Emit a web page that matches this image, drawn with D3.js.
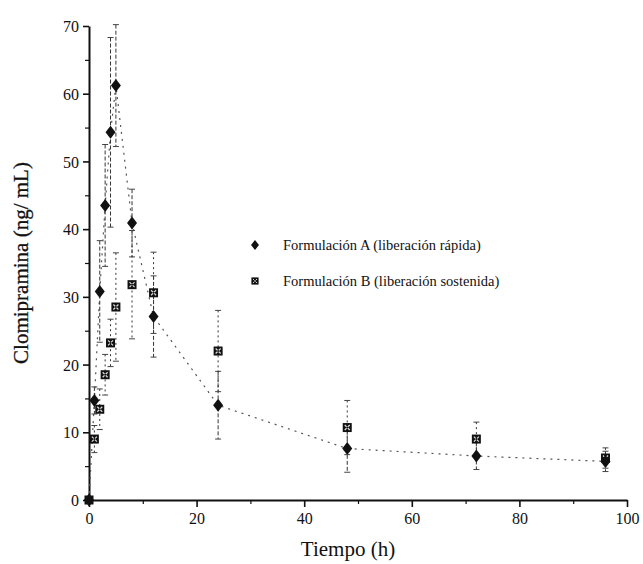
<!DOCTYPE html>
<html>
<head>
<meta charset="utf-8">
<script src="https://cdn.jsdelivr.net/npm/d3@7"></script>
<style>
  body { margin: 0; background: #fff; }
  text { font-family: "Liberation Serif", "DejaVu Serif", serif; fill: #111; }
</style>
</head>
<body>
<div id="chart"></div>
<script>
// Data
const times = [0, 1, 2, 3, 4, 5, 8, 12, 24, 48, 72, 96];
const formA = [0, 14.7, 30.8, 43.5, 54.3, 61.2, 40.9, 27.1, 14.0, 7.6, 6.5, 5.7];
const errA = [0, 2, 7.5, 9, 14, 9, 5, 6, 5, 3.5, 2, 1.5];
const formB = [0, 9.0, 13.4, 18.5, 23.2, 28.5, 31.8, 30.6, 22.0, 10.7, 9.0, 6.2];
const errB = [0, 2, 3, 3, 3.5, 8, 8, 6, 6, 4, 2.5, 1.5];
const xTicks = [0, 20, 40, 60, 80, 100];
const yTicks = [0, 10, 20, 30, 40, 50, 60, 70];
const legendLabels = ["Formulación A (liberación rápida)", "Formulación B (liberación sostenida)"];

const width = 643, height = 564;
const margin = { top: 26, right: 16, bottom: 64, left: 89 };
const plotWidth = width - margin.left - margin.right;
const plotHeight = height - margin.top - margin.bottom;

const svg = d3.select("#chart")
    .append("svg")
    .attr("width", width)
    .attr("height", height);

const g = svg.append("g")
    .attr("transform", `translate(${margin.left},${margin.top})`);

// Scales
const x = d3.scaleLinear().domain([0, 100]).range([0, plotWidth]);
const y = d3.scaleLinear().domain([0, 70]).range([plotHeight, 0]);

// Minor ticks
g.append("g")
    .attr("transform", `translate(0,${plotHeight})`)
    .call(d3.axisBottom(x).tickValues(d3.range(10, 100, 20)).tickSize(4).tickFormat(""))
    .call(a => a.select(".domain").remove())
    .selectAll("line").attr("stroke", "#111").attr("stroke-width", 1.2);

g.append("g")
    .call(d3.axisLeft(y).tickValues(d3.range(5, 70, 10)).tickSize(4).tickFormat(""))
    .call(a => a.select(".domain").remove())
    .selectAll("line").attr("stroke", "#111").attr("stroke-width", 1.2);

// Major axes
const xAxis = g.append("g")
    .attr("transform", `translate(0,${plotHeight})`)
    .call(d3.axisBottom(x).tickValues(xTicks).tickSize(7).tickSizeOuter(0).tickPadding(6));

const yAxis = g.append("g")
    .call(d3.axisLeft(y).tickValues(yTicks).tickSize(6).tickSizeOuter(0).tickPadding(4));

[xAxis, yAxis].forEach(a => {
    a.attr("font-family", "'Liberation Serif', serif");
    a.select(".domain").attr("stroke", "#111").attr("stroke-width", 2);
    a.selectAll(".tick line").attr("stroke", "#111").attr("stroke-width", 1.6);
    a.selectAll(".tick text")
        .attr("font-size", 16)
        .attr("fill", "#111")
        .style("font-family", "'Liberation Serif', serif");
});
yAxis.selectAll(".tick text").attr("dy", "0.35em");

// Axis labels
svg.append("text")
    .attr("x", margin.left + x(50) - 10)
    .attr("y", 556)
    .attr("text-anchor", "middle")
    .attr("font-size", 21)
    .text("Tiempo (h)");

svg.append("text")
    .attr("transform", `translate(28,${margin.top + plotHeight / 2}) rotate(-90)`)
    .attr("text-anchor", "middle")
    .attr("font-size", 21)
    .attr("stroke", "#111")
    .attr("stroke-width", 0.3)
    .text("Clomipramina (ng/ mL)");

const dataA = times.map((t, i) => ({ t, v: formA[i], e: errA[i] }));
const dataB = times.map((t, i) => ({ t, v: formB[i], e: errB[i] }));

// Connecting line for formulation A
g.append("path")
    .datum(dataA)
    .attr("fill", "none")
    .attr("stroke", "#555")
    .attr("stroke-width", 1.2)
    .attr("stroke-dasharray", "2,5")
    .attr("d", d3.line().x(d => x(d.t)).y(d => y(d.v)));

// Error bars
function errorBars(data, cls, dash) {
    const eb = g.selectAll("." + cls).data(data.filter(d => d.e > 0)).enter()
        .append("g").attr("class", cls);
    eb.append("line")
        .attr("x1", d => x(d.t)).attr("x2", d => x(d.t))
        .attr("y1", d => y(d.v + d.e)).attr("y2", d => y(d.v - d.e))
        .attr("stroke", "#333").attr("stroke-width", 1)
        .attr("stroke-dasharray", dash);
    eb.selectAll(".cap").data(d => [d.v + d.e, d.v - d.e].map(v => ({ t: d.t, v })))
        .enter().append("line")
        .attr("x1", d => x(d.t) - 3).attr("x2", d => x(d.t) + 3)
        .attr("y1", d => y(d.v)).attr("y2", d => y(d.v))
        .attr("stroke", "#444").attr("stroke-width", 1);
}
errorBars(dataA, "errA", "4,2");
errorBars(dataB, "errB", "2,3");

// Markers
const diamond = "M0,-6.5L5,0L0,6.5L-5,0Z";

function drawB(sel) {
    sel.append("rect")
        .attr("x", -4.5).attr("y", -4.5).attr("width", 9).attr("height", 9)
        .attr("fill", "#111");
    sel.append("path")
        .attr("d", "M-2.5,-2.5L2.5,2.5M2.5,-2.5L-2.5,2.5")
        .attr("stroke", "#ddd").attr("stroke-width", 1.2);
    sel.append("circle").attr("r", 1).attr("fill", "#111");
}

g.selectAll(".markB").data(dataB).enter()
    .append("g").attr("class", "markB")
    .attr("transform", d => `translate(${x(d.t)},${y(d.v)})`)
    .call(drawB);

g.selectAll(".markA").data(dataA).enter()
    .append("path").attr("class", "markA")
    .attr("d", diamond)
    .attr("fill", "#111")
    .attr("transform", d => `translate(${x(d.t)},${y(d.v)})`);

// Legend
const legend = svg.append("g").attr("transform", "translate(255,245)");
legend.append("path").attr("d", "M0,-5L4,0L0,5L-4,0Z").attr("fill", "#111");
legend.append("g").attr("transform", "translate(0,36) scale(0.8)").call(drawB);
legend.selectAll(".lbl").data(legendLabels).enter()
    .append("text")
    .attr("x", 28)
    .attr("y", (d, i) => i * 36 + 5)
    .attr("font-size", 14.5)
    .text(d => d);
</script>
</body>
</html>
